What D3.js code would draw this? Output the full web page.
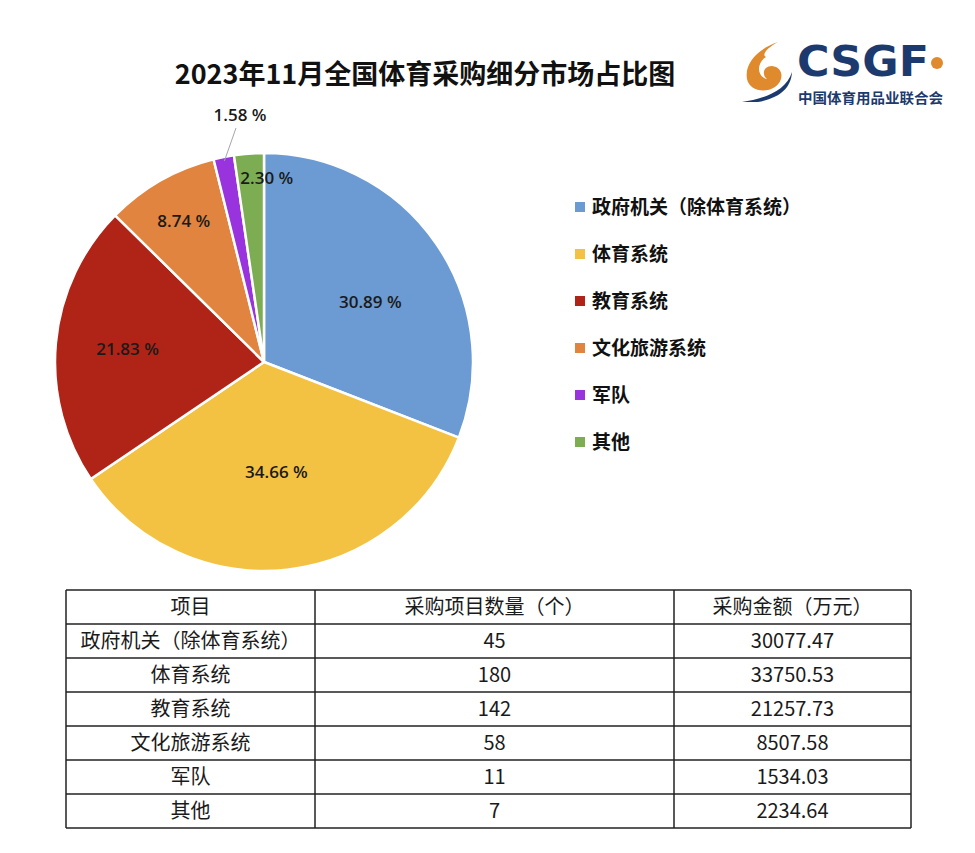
<!DOCTYPE html>
<html>
<head>
<meta charset="utf-8">
<script src="https://cdn.jsdelivr.net/npm/d3@7"></script>
<style>
  body { margin: 0; background: #fff; }
  svg text { font-family: "Noto Sans CJK SC", "Noto Sans", sans-serif; }
</style>
</head>
<body>
<svg id="chart" width="975" height="853"></svg>
<script>
// ---------------- data ----------------
var categories = ['政府机关（除体育系统）', '体育系统', '教育系统', '文化旅游系统', '军队', '其他'];
var shares = [30.89, 34.66, 21.83, 8.74, 1.58, 2.30];
var counts = [45, 180, 142, 58, 11, 7];
var amounts = ['30077.47', '33750.53', '21257.73', '8507.58', '1534.03', '2234.64'];
var headers = ['项目', '采购项目数量（个）', '采购金额（万元）'];
var colors = ['#6b9bd2', '#f4c242', '#b02418', '#e0843f', '#9933dd', '#7cad52'];

var svg = d3.select('#chart');

// title
svg.append('text')
   .attr('x', 425).attr('y', 84)
   .attr('text-anchor', 'middle')
   .style('font-size', '27px').style('font-weight', 700).style('fill', '#111')
   .text('2023年11月全国体育采购细分市场占比图');

// ---------------- logo ----------------
var logo = svg.append('g');
logo.append('path')
    .attr('d', 'M778 42 C760 48 744 62 747 79 C749 90 764 94 775 87 C785 80 783 67 772 66 C764 66 761 74 767 79 C757 77 756 63 766 57 C761 55 768 47 778 42 Z')
    .style('fill', '#e08a2e');
logo.append('path')
    .attr('d', 'M742 102 C762 99 786 92 792 72 C791 88 780 98 758 102 Z')
    .style('fill', '#1c3a6e');
logo.append('text')
    .attr('x', 797).attr('y', 76)
    .attr('textLength', 132).attr('lengthAdjust', 'spacingAndGlyphs')
    .style('font-family', '"DejaVu Sans", sans-serif')
    .style('font-size', '43px').style('font-weight', 700).style('fill', '#1c3a6e')
    .text('CSGF');
logo.append('circle').attr('cx', 937).attr('cy', 63).attr('r', 6).style('fill', '#e08a2e');
logo.append('text')
    .attr('x', 798).attr('y', 103)
    .attr('textLength', 145).attr('lengthAdjust', 'spacingAndGlyphs')
    .style('font-size', '14px').style('font-weight', 700).style('fill', '#1c3a6e')
    .text('中国体育用品业联合会');

// ---------------- pie ----------------
var cx = 264, cy = 362, r = 209;
var pie = d3.pie().sort(null).value(d => d);
var arcs = pie(shares);
var arc = d3.arc().innerRadius(0).outerRadius(r);

var g = svg.append('g').attr('transform', 'translate(' + cx + ',' + cy + ')');
g.selectAll('path.slice')
 .data(arcs)
 .enter().append('path')
 .attr('class', 'slice')
 .attr('d', arc)
 .style('fill', (d, i) => colors[i])
 .style('stroke', '#fff')
 .style('stroke-width', 2.5)
 .style('stroke-linejoin', 'round');

// label placement (Excel style best fit)
var labelR = [122, 111, 137, 162, 250, 184];
var labelShift = [5, 0, 0, 0, 0, 5];
function labelPos(d, i) {
    var a = (d.startAngle + d.endAngle) / 2 + labelShift[i] * Math.PI / 180;
    return [labelR[i] * Math.sin(a), -labelR[i] * Math.cos(a)];
}

// leader line for the tiny slice
var small = arcs[4];
var ma = (small.startAngle + small.endAngle) / 2;
g.append('line')
 .attr('x1', (r - 4) * Math.sin(ma)).attr('y1', -(r - 4) * Math.cos(ma))
 .attr('x2', -28).attr('y2', -234)
 .style('stroke', '#a6a6a6').style('stroke-width', 1);

g.selectAll('text.lbl')
 .data(arcs)
 .enter().append('text')
 .attr('class', 'lbl')
 .attr('transform', (d, i) => {
     var p = i === 4 ? [-24, -247] : labelPos(d, i);
     return 'translate(' + p[0] + ',' + p[1] + ')';
 })
 .attr('text-anchor', 'middle')
 .attr('dy', '0.35em')
 .style('font-family', '"Open Sans", "Noto Sans", sans-serif')
 .style('font-size', '17px').style('font-weight', 600).style('fill', '#1a1a1a')
 .text((d, i) => shares[i].toFixed(2) + ' %');

// ---------------- legend ----------------
var legend = svg.append('g').attr('transform', 'translate(575,207)');
var item = legend.selectAll('g')
    .data(categories)
    .enter().append('g')
    .attr('transform', (d, i) => 'translate(0,' + i * 47 + ')');
item.append('rect')
    .attr('x', 0).attr('y', -5).attr('width', 10).attr('height', 10)
    .style('fill', (d, i) => colors[i]);
item.append('text')
    .attr('x', 17).attr('dy', '0.36em')
    .style('font-size', '19px').style('font-weight', 700).style('fill', '#111')
    .text(d => d);

// ---------------- table ----------------
var colX = [66, 315, 674, 911];
var rowY = d3.scaleLinear().domain([0, 7]).range([590, 828]);
var rows = [headers].concat(categories.map((c, i) => [c, counts[i], amounts[i]]));

var table = svg.append('g');
table.selectAll('line.h')
    .data(d3.range(8))
    .enter().append('line')
    .attr('x1', colX[0]).attr('x2', colX[3])
    .attr('y1', d => rowY(d)).attr('y2', d => rowY(d))
    .style('stroke', '#222').style('stroke-width', 1.5);
table.selectAll('line.v')
    .data(colX)
    .enter().append('line')
    .attr('x1', d => d).attr('x2', d => d)
    .attr('y1', rowY(0)).attr('y2', rowY(7))
    .style('stroke', '#222').style('stroke-width', 1.5);

var tr = table.selectAll('g.row')
    .data(rows)
    .enter().append('g')
    .attr('transform', (d, i) => 'translate(0,' + (rowY(i) + rowY(i + 1)) / 2 + ')');
tr.selectAll('text')
    .data(d => d)
    .enter().append('text')
    .attr('x', (d, j) => (colX[j] + colX[j + 1]) / 2)
    .attr('dy', '0.36em')
    .attr('text-anchor', 'middle')
    .style('font-size', '20px').style('fill', '#1a1a1a')
    .text(d => d);
</script>
</body>
</html>
